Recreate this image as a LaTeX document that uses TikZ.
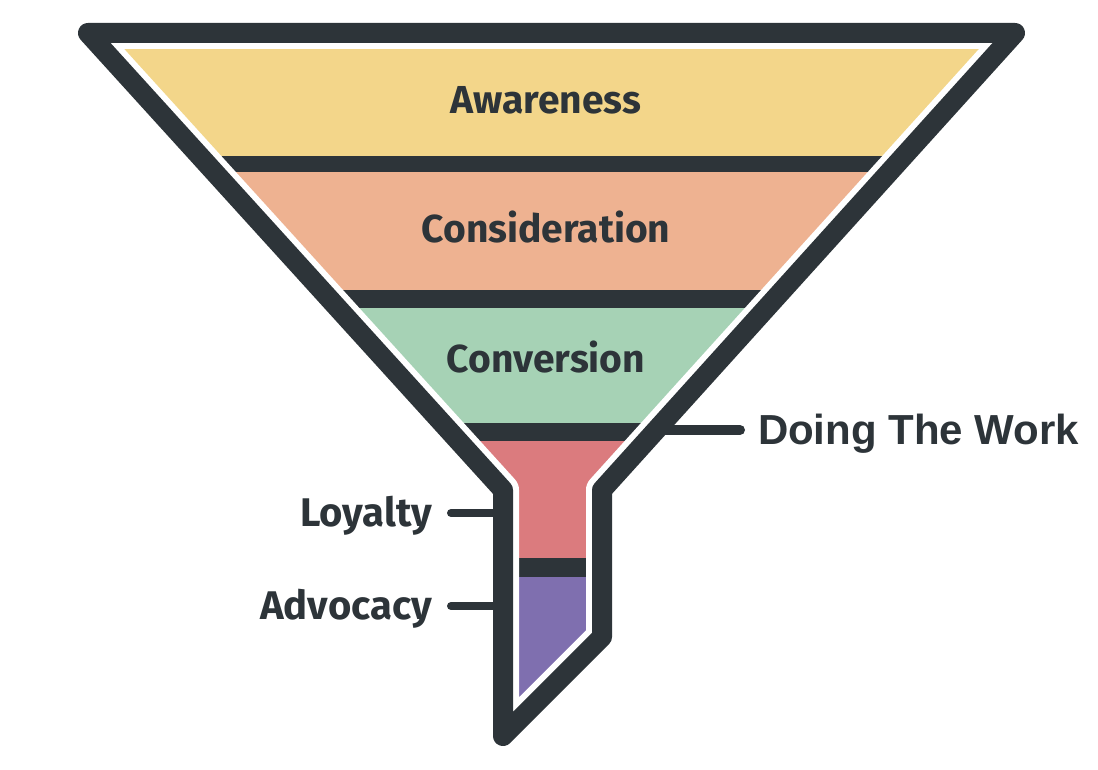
\documentclass[tikz,border=0pt]{standalone}
\usepackage{fontspec}
\setmainfont{Fira Sans}
\setsansfont{Liberation Sans}
\usetikzlibrary{positioning}
\definecolor{my_dark}{RGB}{45,52,57}
\definecolor{my_yellow}{RGB}{243,214,138}
\definecolor{my_salmon}{RGB}{238,178,145}
\definecolor{my_green}{RGB}{166,210,181}
\definecolor{my_pink}{RGB}{219,123,126}
\definecolor{my_purple}{RGB}{127,111,175}
\tikzset {
  funnel/.style = {draw=my_dark, line width=20pt, line join=round},
  gap/.style = {draw=white, line width=32pt, line join=round},
  stage/.style = {text=my_dark, font=\fontsize{39}{42}\selectfont\bfseries, inner sep=0, anchor=base},
  side/.style = {text=my_dark, font=\fontsize{40}{44}\selectfont\bfseries, inner sep=0, outer xsep=19pt, anchor=base east},
  work/.style = {text=my_dark, font=\sffamily\bfseries\fontsize{42}{46}\selectfont, inner sep=0, outer xsep=18pt, anchor=base west},
  line/.style = {draw=my_dark, line width=8pt, line cap=round},
}

\begin{document}
\begin{tikzpicture}[x=1pt, y=-1pt]
    \useasboundingbox (0,0) rectangle (1098,770);

    % funnel outline points
    \coordinate (tl) at (88,33);
    \coordinate (tr) at (1015,33);
    \coordinate (rb) at (602,490);
    \coordinate (rk) at (602,637);
    \coordinate (tip) at (503,736);
    \coordinate (lb) at (503,490);

    \begin{scope}
        \clip (tl) -- (tr) -- (rb) -- (rk) -- (tip) -- (lb) -- cycle;
        \fill[my_yellow] (0,20) rectangle (1098,156);
        \fill[my_dark] (0,156) rectangle (1098,172);
        \fill[my_salmon] (0,172) rectangle (1098,290);
        \fill[my_dark] (0,290) rectangle (1098,308);
        \fill[my_green] (0,308) rectangle (1098,423);
        \fill[my_dark] (0,423) rectangle (1098,441);
        \fill[my_pink] (0,441) rectangle (1098,558);
        \fill[my_dark] (0,558) rectangle (1098,577);
        \fill[my_purple] (0,577) rectangle (1098,750);
    \end{scope}

    \draw[gap] (tl) -- (tr) -- (rb) -- (rk) -- (tip) -- (lb) -- cycle;
    \draw[funnel] (tl) -- (tr) -- (rb) -- (rk) -- (tip) -- (lb) -- cycle;

    \node[stage] (awareness) at (546,114) {Awareness};
    \node[stage] (consideration) at (546,243) {Consideration};
    \node[stage] (conversion) at (546,372) {Conversion};

    % side labels
    \coordinate (loyaltyfoot) at (495,513);
    \coordinate (advocacyfoot) at (495,606);
    \coordinate (workfoot) at (656,430);
    \node[side] (loyalty) at (451,526) {Loyalty};
    \node[side] (advocacy) at (451,619) {Advocacy};
    \node[work] (doing) at (740,444) {Doing The Work};

    \draw[line] ([yshift=13pt]loyalty.base east) -- (loyaltyfoot);
    \draw[line] ([yshift=13pt]advocacy.base east) -- (advocacyfoot);
    \draw[line, line width=10pt] (workfoot) -- ([yshift=14pt]doing.base west);
\end{tikzpicture}
\end{document}
